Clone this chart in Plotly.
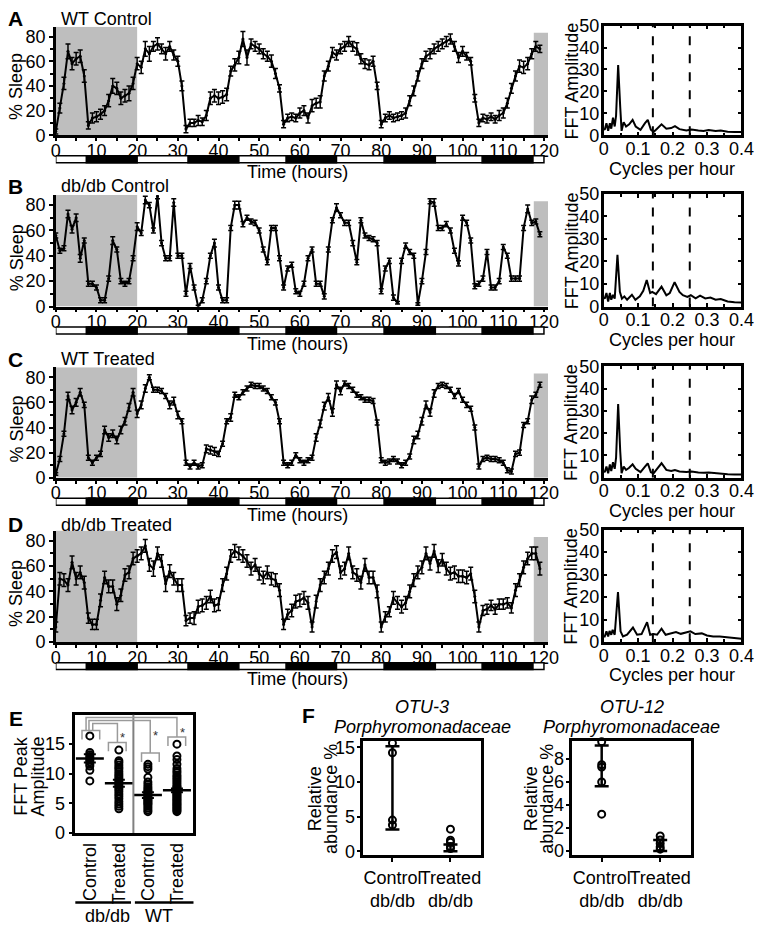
import plotly.graph_objects as go

W, H = 771, 934
FONT = "Liberation Sans, Arial, sans-serif"

# ---------------- data ----------------
hours = list(range(120))

A_sleep = [3, 22, 42, 68, 58, 62, 64, 48, 8, 14,
           15, 17, 20, 28, 40, 38, 30, 32, 34, 42,
           58, 55, 70, 66, 72, 74, 70, 66, 72, 65,
           60, 40, 5, 10, 10, 12, 11, 16, 30, 32,
           30, 31, 33, 52, 57, 63, 78, 63, 74, 72,
           70, 66, 64, 60, 50, 38, 9, 14, 15, 14,
           18, 20, 14, 24, 26, 27, 48, 56, 67, 65,
           70, 72, 76, 72, 70, 62, 58, 57, 60, 40,
           9, 14, 16, 14, 15, 16, 18, 28, 36, 48,
           58, 64, 66, 70, 72, 74, 76, 78, 72, 63,
           68, 64, 60, 30, 10, 14, 13, 15, 13, 16,
           18, 26, 38, 48, 56, 55, 58, 66, 72, 70]
A_err = [2, 4, 5, 6, 5, 5, 5, 5, 3, 4,
         4, 4, 4, 5, 6, 5, 5, 5, 6, 5,
         5, 5, 6, 6, 4, 5, 4, 5, 4, 4,
         4, 4, 3, 3, 3, 4, 3, 4, 5, 5,
         5, 5, 5, 4, 5, 5, 6, 6, 4, 4,
         4, 4, 4, 5, 4, 3, 3, 3, 3, 3,
         4, 4, 4, 5, 4, 5, 4, 4, 4, 4,
         4, 4, 4, 4, 5, 4, 4, 4, 4, 3,
         3, 3, 3, 3, 3, 3, 4, 4, 4, 4,
         4, 4, 4, 4, 4, 4, 4, 4, 4, 4,
         4, 3, 3, 3, 3, 3, 3, 3, 3, 4,
         4, 4, 4, 4, 5, 5, 5, 4, 4, 3]

B_sleep = [56, 44, 46, 73, 61, 70, 38, 52, 18, 18,
           15, 5, 5, 22, 52, 45, 20, 18, 20, 38,
           63, 58, 84, 80, 60, 87, 50, 38, 38, 82,
           40, 40, 10, 32, 15, 0, 5, 20, 40, 50,
           15, 5, 5, 62, 80, 80, 65, 70, 67, 66,
           60, 45, 35, 62, 62, 38, 15, 30, 33, 12,
           10, 18, 38, 45, 18, 18, 8, 45, 68, 78,
           72, 66, 66, 50, 35, 68, 56, 54, 53, 50,
           12, 30, 36, 7, 3, 36, 48, 43, 40, 2,
           20, 43, 83, 82, 62, 62, 65, 60, 44, 34,
           70, 66, 52, 16, 18, 22, 43, 15, 15, 20,
           47, 40, 22, 22, 22, 62, 77, 66, 67, 57]
B_err = [2, 2, 2, 3, 3, 3, 3, 2, 2, 2,
         2, 2, 2, 2, 3, 2, 2, 2, 2, 2,
         3, 2, 3, 2, 2, 2, 2, 2, 2, 3,
         2, 2, 2, 2, 2, 1, 2, 2, 2, 3,
         2, 2, 2, 2, 3, 3, 2, 2, 2, 2,
         2, 2, 2, 2, 2, 2, 2, 2, 2, 2,
         2, 2, 2, 2, 2, 2, 2, 2, 2, 3,
         2, 2, 2, 2, 2, 2, 2, 2, 2, 2,
         2, 2, 2, 2, 1, 2, 2, 2, 2, 1,
         2, 2, 2, 3, 2, 2, 2, 2, 2, 2,
         2, 2, 2, 2, 2, 2, 2, 2, 2, 2,
         2, 2, 2, 2, 2, 2, 3, 2, 2, 2]

C_sleep = [3, 15, 35, 65, 54, 60, 68, 58, 16, 12,
           16, 19, 38, 32, 35, 30, 38, 45, 56, 68,
           51, 58, 71, 80, 70, 70, 69, 65, 58, 61,
           50, 45, 12, 9, 12, 9, 10, 23, 22, 21,
           19, 27, 45, 48, 66, 64, 68, 71, 74, 73,
           73, 71, 69, 64, 60, 45, 12, 10, 12, 18,
           14, 12, 14, 16, 32, 43, 57, 64, 52, 74,
           69, 75, 73, 70, 66, 64, 62, 62, 61, 44,
           14, 12, 13, 15, 13, 10, 12, 17, 30, 34,
           45, 58, 52, 67, 73, 74, 73, 70, 65, 69,
           62, 58, 55, 40, 9, 15, 16, 15, 15, 14,
           12, 6, 5, 19, 20, 42, 45, 62, 66, 74]
C_err = [1, 2, 2, 3, 3, 3, 3, 2, 2, 2,
         2, 2, 3, 3, 3, 3, 3, 3, 3, 3,
         3, 3, 3, 2, 2, 2, 2, 2, 3, 3,
         3, 2, 2, 2, 2, 2, 2, 3, 3, 3,
         2, 2, 2, 3, 2, 2, 2, 2, 2, 2,
         2, 2, 2, 2, 2, 2, 2, 2, 2, 2,
         2, 2, 2, 2, 3, 3, 3, 3, 3, 3,
         3, 2, 2, 2, 2, 2, 2, 2, 2, 2,
         2, 2, 2, 2, 2, 2, 2, 2, 3, 3,
         3, 3, 3, 3, 2, 2, 2, 2, 2, 2,
         2, 2, 2, 2, 2, 2, 2, 2, 2, 2,
         2, 2, 2, 2, 2, 2, 2, 3, 2, 2]

D_sleep = [12, 50, 49, 45, 63, 50, 55, 47, 19, 14,
           14, 33, 51, 44, 44, 30, 37, 53, 55, 66,
           68, 70, 76, 61, 58, 70, 64, 46, 56, 50,
           45, 45, 17, 19, 19, 28, 29, 31, 36, 29,
           30, 45, 54, 68, 72, 70, 68, 64, 58, 61,
           54, 51, 55, 50, 49, 41, 14, 22, 25, 32,
           33, 35, 31, 12, 32, 45, 51, 58, 68, 71,
           55, 58, 70, 55, 53, 47, 61, 51, 51, 40,
           12, 20, 24, 35, 31, 28, 31, 40, 49, 55,
           59, 70, 62, 72, 60, 65, 58, 54, 55, 52,
           52, 51, 54, 36, 12, 25, 26, 29, 26, 30,
           30, 31, 27, 41, 49, 59, 66, 70, 70, 58]
D_err = [4, 5, 5, 5, 5, 5, 5, 5, 4, 4,
         4, 5, 5, 5, 5, 5, 5, 5, 5, 5,
         5, 5, 5, 5, 6, 5, 5, 6, 5, 5,
         5, 5, 4, 4, 5, 5, 5, 5, 5, 5,
         5, 5, 5, 5, 5, 5, 5, 5, 5, 5,
         5, 5, 5, 5, 5, 5, 4, 4, 5, 5,
         5, 5, 5, 4, 5, 5, 5, 5, 5, 5,
         5, 5, 5, 5, 5, 5, 5, 5, 5, 5,
         4, 4, 4, 5, 5, 5, 5, 5, 5, 5,
         5, 5, 5, 5, 5, 5, 5, 5, 5, 5,
         5, 5, 5, 5, 4, 4, 4, 4, 4, 4,
         4, 4, 4, 5, 5, 5, 5, 5, 5, 5]

# FFT spectra (cycles per hour, amplitude)
fftA_f = [0, 0.003, 0.008, 0.013, 0.018, 0.022, 0.027, 0.032, 0.036, 0.042, 0.048, 0.052,
          0.058, 0.065, 0.074, 0.084, 0.093, 0.107, 0.12, 0.128, 0.137, 0.145, 0.155, 0.168,
          0.182, 0.196, 0.207, 0.22, 0.24, 0.255, 0.275, 0.29, 0.305, 0.325, 0.34, 0.36, 0.38, 0.4]
fftA_a = [3, 2.5, 5.5, 2, 5.5, 3, 8, 4, 9, 32, 13, 2,
          6, 4, 5, 7, 4, 2.5, 5.5, 7, 2.5, 1.5, 3, 5,
          3, 3.3, 4.2, 2.8, 2.2, 2.6, 2.2, 2, 2.4, 2, 2.2, 1.6, 1.5, 1.5]
fftB_f = [0, 0.003, 0.008, 0.013, 0.018, 0.022, 0.027, 0.032, 0.04, 0.047, 0.053, 0.06,
          0.068, 0.082, 0.092, 0.105, 0.115, 0.125, 0.135, 0.141, 0.152, 0.168, 0.182, 0.192,
          0.206, 0.22, 0.23, 0.243, 0.253, 0.267, 0.28, 0.295, 0.31, 0.325, 0.34, 0.36, 0.38, 0.4]
fftB_a = [4, 3.5, 6, 2.2, 6, 3, 5.2, 3.5, 23, 6.5, 3.5, 4.5,
          3, 5.2, 3, 4.5, 7, 11.8, 6, 6.5, 5.5, 8.8, 5, 6,
          10.8, 6.5, 5, 4.3, 5, 3.6, 4.8, 3.6, 4, 3, 3.3, 2.2, 1.9, 1.8]
fftC_f = [0, 0.003, 0.008, 0.013, 0.018, 0.022, 0.027, 0.032, 0.036, 0.042, 0.048, 0.052,
          0.058, 0.065, 0.074, 0.084, 0.093, 0.107, 0.12, 0.128, 0.137, 0.145, 0.155, 0.168,
          0.182, 0.196, 0.207, 0.22, 0.24, 0.255, 0.275, 0.29, 0.305, 0.325, 0.34, 0.36, 0.38, 0.4]
fftC_a = [3, 2.5, 5, 2, 6, 3, 7, 4, 9, 33, 12, 2,
          5, 3.5, 4.5, 6, 4, 2.5, 5, 6.5, 2.5, 2, 4, 6.5,
          3.5, 3, 3.5, 2.8, 2.6, 2.8, 2.4, 2.2, 2.4, 2, 2, 1.6, 1.5, 1.5]
fftD_f = [0, 0.003, 0.008, 0.013, 0.017, 0.022, 0.026, 0.032, 0.0415, 0.049, 0.056, 0.068,
          0.085, 0.097, 0.11, 0.126, 0.135, 0.145, 0.155, 0.168, 0.18, 0.195, 0.21, 0.224,
          0.238, 0.252, 0.266, 0.285, 0.3, 0.318, 0.337, 0.356, 0.38, 0.4]
fftD_a = [2.5, 2.5, 4.8, 2.5, 5, 3.3, 5.5, 3.3, 22.3, 4.8, 2.5, 3.3,
          6.5, 3.3, 3.6, 8.9, 3.3, 3.6, 3.3, 6, 3.3, 4, 4.5, 3.7,
          4.3, 4.8, 3.6, 3.9, 3, 2.5, 2.5, 2.1, 1.8, 1.5]
ref_freqs = [1 / 7, 1 / 4]          # dashed reference lines

shade_left = (0, 20)
shade_right = (117.5, 121)
dark_periods = [(7.5, 20), (32.5, 45), (56.6, 69), (80.7, 93.3), (104.8, 117.3)]

# panel E: FFT peak amplitude
E_labels = ["Control", "Treated", "Control", "Treated"]
E_dbdb_ctrl = [16.4, 13.6, 13.2, 12.9, 12.6, 12.3, 12.0, 11.6, 11.3, 10.6, 8.8]
E_dbdb_trt = [14.0, 12.2, 11.9, 11.5, 11.1, 10.8, 10.4, 10.0, 9.7, 9.4, 9.1, 8.8, 8.5,
              8.3, 8.0, 7.7, 7.4, 7.0, 6.6, 6.2, 5.8, 5.3, 4.9, 4.5, 4.1]
E_wt_ctrl = [11.6, 11.2, 10.8, 9.4, 8.6, 8.2, 7.8, 7.5, 7.2, 7.0, 6.8, 6.6, 6.4, 6.2,
             6.0, 5.8, 5.6, 5.4, 5.2, 5.0, 4.8, 4.5, 4.2, 3.9, 3.6]
E_wt_trt = [15.0, 13.0, 12.4, 11.6, 10.9, 10.5, 10.2, 9.8, 9.5, 9.2, 8.9, 8.6, 8.3, 8.0,
            7.8, 7.6, 7.4, 7.2, 7.0, 6.8, 6.6, 6.4, 6.2, 6.0, 5.8, 5.6, 5.4, 5.2, 5.0,
            4.8, 4.6, 4.4, 4.2, 4.0, 3.8, 3.6]
E_mean = [12.6, 8.4, 6.4, 7.2]
E_sd = [0.7, 0.6, 0.5, 0.3]

# panel F: relative abundance
F_cats = ["Control<br>db/db", "Treated<br>db/db"]
F1_ctrl = [15.6, 14.2, 4.5, 3.8]
F1_trt = [3.2, 1.6, 1.3, 0.7, 0.4]
F1_mean = [9.15, 0.5]
F1_sd = [6.0, 0.5]
F2_ctrl = [9.5, 7.5, 7.3, 6.0, 3.2]
F2_trt = [1.3, 0.95, 0.65, 0.35, 0.15]
F2_mean = [7.4, 0.47]
F2_sd = [1.78, 0.47]

# ---------------- helpers ----------------
def px_x(p):
    return p / W


def px_y(p):
    return 1 - p / H


def ax(prefix, n):
    return prefix if n == 1 else f"{prefix}{n}"


def lay(prefix, n):
    return f"{prefix}axis" if n == 1 else f"{prefix}axis{n}"


def ann(text, x, y, size=18, angle=0, xanchor="center", color="black"):
    return dict(text=text, x=px_x(x), y=px_y(y), xref="paper", yref="paper",
                showarrow=False, textangle=angle, xanchor=xanchor, yanchor="middle",
                font=dict(size=size, family=FONT, color=color))


fig = go.Figure()
shapes = []
annotations = []
layout = {}

AX_LINE = dict(showline=True, linecolor="black", linewidth=2.5, showgrid=False,
               zeroline=False, tickfont=dict(size=18, family=FONT, color="black"),
               tickcolor="black")

rows = [
    ("A", "WT Control", A_sleep, A_err, fftA_f, fftA_a, 17, 128, 9),
    ("B", "db/db Control", B_sleep, B_err, fftB_f, fftB_a, 189, 303, 180),
    ("C", "WT Treated", C_sleep, C_err, fftC_f, fftC_a, 365, 478, 357),
    ("D", "db/db Treated", D_sleep, D_err, fftD_f, fftD_a, 532, 646, 526),
]

for i, (letter, title, ys, es, ff, fa, top, bot, ty) in enumerate(rows):
    nt = 2 * i + 1
    nf = 2 * i + 2
    xt, yt = ax("x", nt), ax("y", nt)
    xf, yf = ax("x", nf), ax("y", nf)

    # shading
    shapes.append(dict(type="rect", xref=xt, yref=yt, x0=shade_left[0], x1=shade_left[1],
                       y0=0, y1=88, fillcolor="#bebebe", line=dict(width=0), layer="below"))
    shapes.append(dict(type="rect", xref=xt, yref=yt, x0=shade_right[0], x1=shade_right[1],
                       y0=0, y1=83, fillcolor="#bebebe", line=dict(width=0), layer="below"))
    # light / dark bar
    b0, b1 = px_y(bot + 28), px_y(bot + 21)
    shapes.append(dict(type="rect", xref=xt, yref="paper", x0=0, x1=120, y0=b0, y1=b1,
                       fillcolor="white", line=dict(color="black", width=1.5)))
    for d0, d1 in dark_periods:
        shapes.append(dict(type="rect", xref=xt, yref="paper", x0=d0, x1=d1, y0=b0, y1=b1,
                           fillcolor="black", line=dict(color="black", width=1.5)))

    fig.add_trace(go.Scatter(
        x=hours, y=ys, mode="lines+markers", xaxis=xt, yaxis=yt, showlegend=False,
        line=dict(color="black", width=2), marker=dict(color="black", size=3),
        error_y=dict(type="data", array=es, color="black", thickness=1.5, width=2.5),
        hoverinfo="skip"))

    fig.add_trace(go.Scatter(
        x=ff, y=fa, mode="lines", xaxis=xf, yaxis=yf, showlegend=False,
        line=dict(color="black", width=2), hoverinfo="skip"))
    for rf in ref_freqs:
        shapes.append(dict(type="line", xref=xf, yref=yf, x0=rf, x1=rf, y0=0, y1=50,
                           line=dict(color="black", width=2, dash="dash")))

    layout[lay("x", nt)] = dict(AX_LINE, domain=[px_x(52), px_x(556)], range=[0, 121],
                                anchor=yt, tick0=0, dtick=10, ticks="outside", ticklen=3,
                                tickwidth=2, ticklabelstandoff=-6,
                                minor=dict(dtick=5, ticks="outside", ticklen=3, tickwidth=2,
                                           tickcolor="black", showgrid=False))
    layout[lay("y", nt)] = dict(AX_LINE, domain=[px_y(bot), px_y(top)], range=[0, 88],
                                anchor=xt, tick0=0, dtick=20, ticks="outside", ticklen=4,
                                tickwidth=2,
                                minor=dict(dtick=10, ticks="outside", ticklen=3, tickwidth=2,
                                           tickcolor="black", showgrid=False))
    layout[lay("x", nf)] = dict(AX_LINE, domain=[px_x(613), px_x(754)], range=[0, 0.4],
                                anchor=yf, dtick=0.1, ticks="inside", ticklen=4, tickwidth=2,
                                mirror="ticks", ticklabelstandoff=-5,
                                minor=dict(dtick=0.05, ticks="inside", ticklen=3, tickwidth=2,
                                           tickcolor="black", showgrid=False))
    layout[lay("y", nf)] = dict(AX_LINE, domain=[px_y(bot), px_y(top - 1)], range=[0, 50],
                                anchor=xf, dtick=10, ticks="inside", ticklen=4, tickwidth=2,
                                mirror="ticks", ticklabelstandoff=-2)

    annotations.append(ann(f"<b>{letter}</b>", 11, ty, size=21))
    annotations.append(ann(title, 55, ty, size=18, xanchor="left"))
    annotations.append(ann("% Sleep", 12, bot - 50, angle=-90))
    annotations.append(ann("Time (hours)", 300, bot + 38))
    annotations.append(ann("FFT Amplitude", 580, (top + bot) / 2, angle=-90))
    annotations.append(ann("Cycles per hour", 683, bot + 34))

# ---------------- panel E ----------------
E_groups = [E_dbdb_ctrl, E_dbdb_trt, E_wt_ctrl, E_wt_trt]
for k, g in enumerate(E_groups):
    fig.add_trace(go.Scatter(
        x=[k] * len(g), y=g, mode="markers", xaxis="x9", yaxis="y9", showlegend=False,
        cliponaxis=False,
        marker=dict(symbol="circle-open", size=7, color="black", line=dict(width=2)),
        hoverinfo="skip"))
fig.add_trace(go.Scatter(
    x=[0, 1, 2, 3], y=E_mean, mode="markers", xaxis="x9", yaxis="y9", showlegend=False,
    marker=dict(symbol="line-ew-open", size=20, color="black", line=dict(width=2.5)),
    error_y=dict(type="data", array=E_sd, color="black", thickness=2, width=6),
    hoverinfo="skip"))

layout["xaxis9"] = dict(AX_LINE, domain=[px_x(72), px_x(193)], range=[-0.5, 3.57],
                        anchor="y9", tickmode="array", tickvals=[0, 1, 2, 3],
                        ticktext=E_labels, tickangle=-90, ticks="", mirror=True)
layout["yaxis9"] = dict(AX_LINE, domain=[px_y(841), px_y(720)], range=[0, 20],
                        anchor="x9", tickmode="array", tickvals=[0, 5, 10, 15],
                        ticks="outside", ticklen=4, tickwidth=2, mirror=True)

GRAY = "#9a9a9a"
shapes.append(dict(type="line", xref="x9", yref="y9", x0=1.5, x1=1.5, y0=0, y1=20,
                   line=dict(color="#808080", width=2)))
brackets = [(-0.27, 0.34, 17.3, 15.8), (0.64, 1.25, 15.3, 13.8),
            (1.78, 2.39, 13.5, 12.0), (2.69, 3.30, 16.2, 14.7)]
for x0, x1, yt_, yb in brackets:
    shapes.append(dict(type="path", xref="x9", yref="y9",
                       path=f"M {x0} {yb} L {x0} {yt_} L {x1} {yt_} L {x1} {yb}",
                       line=dict(color=GRAY, width=1.5)))
links = [(-0.13, 19.5, 3.0, 16.2), (-0.03, 19.0, 2.08, 13.5), (0.10, 18.5, 0.95, 15.3)]
for xs, yl, xe, ye in links:
    shapes.append(dict(type="path", xref="x9", yref="y9",
                       path=f"M {xs} 17.3 L {xs} {yl} L {xe} {yl} L {xe} {ye}",
                       line=dict(color=GRAY, width=1.5)))
for sx, sy in [(1.11, 16.2), (2.26, 16.4), (3.2, 17.0)]:
    annotations.append(dict(text="*", x=sx, y=sy, xref="x9", yref="y9", showarrow=False,
                            font=dict(size=13, family=FONT, color="#333333")))

annotations.append(ann("<b>E</b>", 11, 724, size=21))
annotations.append(ann("FFT Peak", 17, 783, angle=-90))
annotations.append(ann("Amplitude", 34, 783, angle=-90))
shapes.append(dict(type="line", xref="paper", yref="paper", x0=px_x(72), x1=px_x(129),
                   y0=px_y(912), y1=px_y(912), line=dict(color="black", width=2.5)))
shapes.append(dict(type="line", xref="paper", yref="paper", x0=px_x(133), x1=px_x(193),
                   y0=px_y(912), y1=px_y(912), line=dict(color="black", width=2.5)))
annotations.append(ann("db/db", 105, 926))
annotations.append(ann("WT", 158, 926))

# ---------------- panel F ----------------
F_panels = [
    (10, F1_ctrl, F1_trt, F1_mean, F1_sd, 367, 487, [-0.6, 15.9], [0, 5, 10, 15], "OTU-3", 317),
    (11, F2_ctrl, F2_trt, F2_mean, F2_sd, 581, 702, [-0.4, 9.57], [0, 2, 4, 6, 8], "OTU-12", 538),
]
for n, fc, ft, fm, fs, xl, xr, yr, yt_vals, otu, ytx in F_panels:
    xa, ya = f"x{n}", f"y{n}"
    for pos, vals in [(0, fc), (1, ft)]:
        fig.add_trace(go.Scatter(
            x=[pos] * len(vals), y=vals, mode="markers", xaxis=xa, yaxis=ya,
            showlegend=False, cliponaxis=False,
            marker=dict(symbol="circle-open", size=7, color="black", line=dict(width=2)),
            hoverinfo="skip"))
    fig.add_trace(go.Scatter(
        x=[0, 1], y=fm, mode="markers", xaxis=xa, yaxis=ya, showlegend=False,
        marker=dict(size=2, color="rgba(0,0,0,0)"),
        error_y=dict(type="data", array=fs, color="black", thickness=2.5, width=7),
        hoverinfo="skip"))
    layout[f"xaxis{n}"] = dict(AX_LINE, domain=[px_x(xl), px_x(xr)], range=[-0.5, 1.52],
                               anchor=ya, tickmode="array", tickvals=[0, 1], ticktext=F_cats,
                               tickangle=0, ticks="outside", ticklen=4, tickwidth=2,
                               mirror=True)
    layout[f"yaxis{n}"] = dict(AX_LINE, domain=[px_y(864), px_y(747)], range=yr,
                               anchor=xa, tickmode="array", tickvals=yt_vals,
                               ticks="outside", ticklen=4, tickwidth=2, mirror=True,
                               ticklabelstandoff=-2)
    cx = (xl + xr) / 2
    annotations.append(ann(f"<i>{otu}</i>", cx, 712))
    annotations.append(ann("<i>Porphyromonadaceae</i>", cx, 733))
    annotations.append(ann("Relative", ytx, 806, angle=-90))
    annotations.append(ann("abundance %", ytx + 17, 806, angle=-90))

annotations.append(ann("<b>F</b>", 311, 721, size=21))

fig.update_layout(
    width=W, height=H, margin=dict(l=0, r=0, t=0, b=0),
    paper_bgcolor="white", plot_bgcolor="rgba(0,0,0,0)",
    font=dict(family=FONT, size=18, color="black"),
    shapes=shapes, annotations=annotations, showlegend=False,
    **layout)

fig.write_html(
    "out.html",
    config={"displayModeBar": False},
    post_script="document.documentElement.style.margin='0';document.body.style.margin='0';"
                "document.body.style.overflow='hidden';")
